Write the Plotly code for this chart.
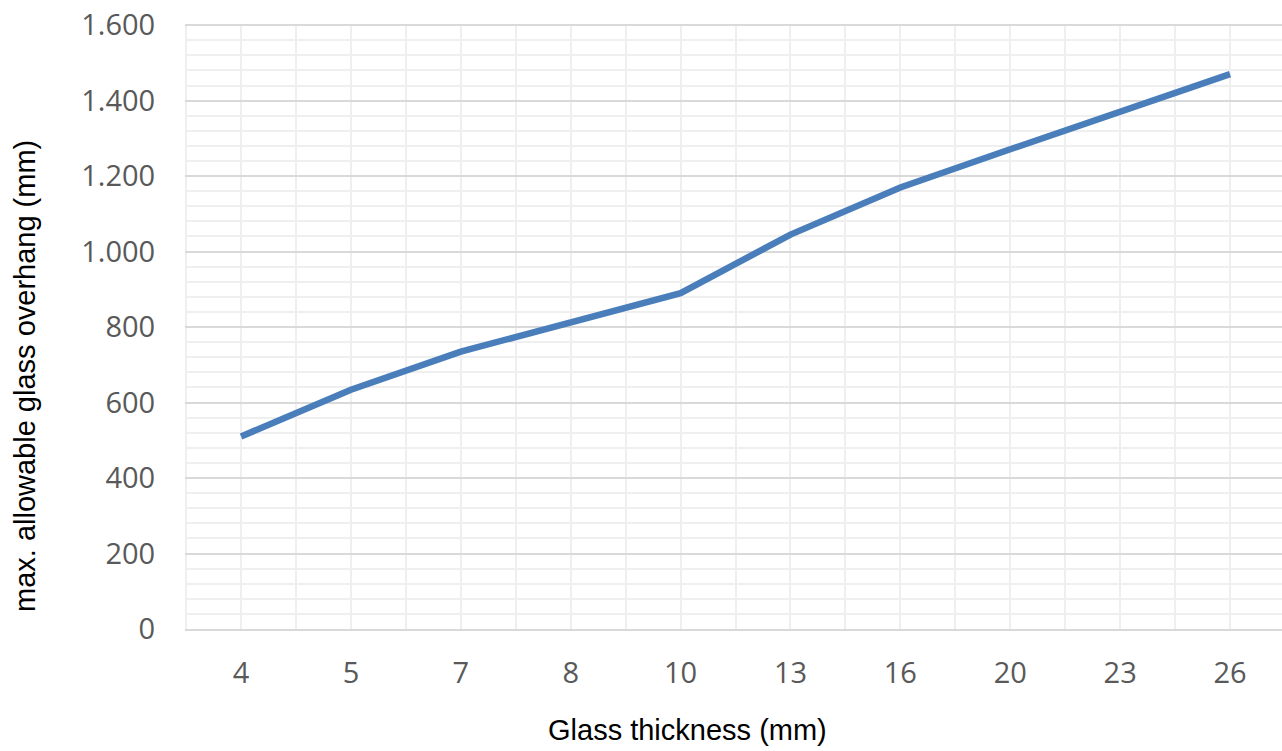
import plotly.graph_objects as go

categories = ["4", "5", "7", "8", "10", "13", "16", "20", "23", "26"]
overhang = [510, 634, 735, 812, 890, 1045, 1170, 1271, 1369, 1470]
y_ticks = [0, 200, 400, 600, 800, 1000, 1200, 1400, 1600]

x_idx = list(range(len(categories)))

W, H = 1282, 751
L, T = 185, 24
PLOT_BOTTOM = 629
B = H - PLOT_BOTTOM
plot_w = W - L
plot_h = PLOT_BOTTOM - T

fig = go.Figure()
fig.add_trace(go.Scatter(
    x=x_idx, y=overhang, mode="lines",
    line=dict(color="#4a7ebb", width=6.5),
    hoverinfo="skip", showlegend=False,
))

tick_font = dict(family="Open Sans", size=29, color="#595959")
title_font = dict(family="Liberation Sans, Arial", size=29, color="#000000")

fig.update_layout(
    width=W, height=H,
    margin=dict(l=L, r=0, t=T, b=B),
    paper_bgcolor="white", plot_bgcolor="white",
    separators=",.",
    xaxis=dict(
        range=[-0.51, 9.473],
        tickmode="array", tickvals=x_idx, ticktext=categories,
        tickfont=tick_font,
        showgrid=True, gridcolor="#efefef", gridwidth=1.5,
        minor=dict(tickmode="linear", tick0=-0.5, dtick=1, showgrid=True,
                   gridcolor="#efefef", gridwidth=1.5, ticks=""),
        showline=True, linecolor="#d9d9d9", linewidth=2,
        ticks="outside", ticklen=17, tickcolor="rgba(0,0,0,0)",
        zeroline=False, fixedrange=True,
    ),
    yaxis=dict(
        range=[0, 1603],
        tickmode="array", tickvals=y_ticks, tickformat=",",
        tickfont=tick_font,
        showgrid=True, gridcolor="#d9d9d9", gridwidth=1.5,
        minor=dict(tickmode="linear", tick0=0, dtick=40, showgrid=True,
                   gridcolor="#efefef", gridwidth=1.5, ticks=""),
        showline=False, zeroline=False,
        ticks="outside", ticklen=23, tickcolor="rgba(0,0,0,0)",
        fixedrange=True,
    ),
    annotations=[
        dict(text="Glass thickness (mm)", xref="paper", yref="paper",
             x=(687 - L) / plot_w, y=-(730 - PLOT_BOTTOM) / plot_h,
             xanchor="center", yanchor="middle", showarrow=False,
             font=title_font),
        dict(text="max. allowable glass overhang (mm)", xref="paper", yref="paper",
             x=-(L - 25) / plot_w, y=(PLOT_BOTTOM - 376) / plot_h,
             xanchor="center", yanchor="middle", showarrow=False,
             textangle=-90, font=title_font),
    ],
)

fig.write_html(
    "out.html",
    config={"displayModeBar": False},
    post_script="document.body.style.margin='0';document.body.style.overflow='hidden';",
)
